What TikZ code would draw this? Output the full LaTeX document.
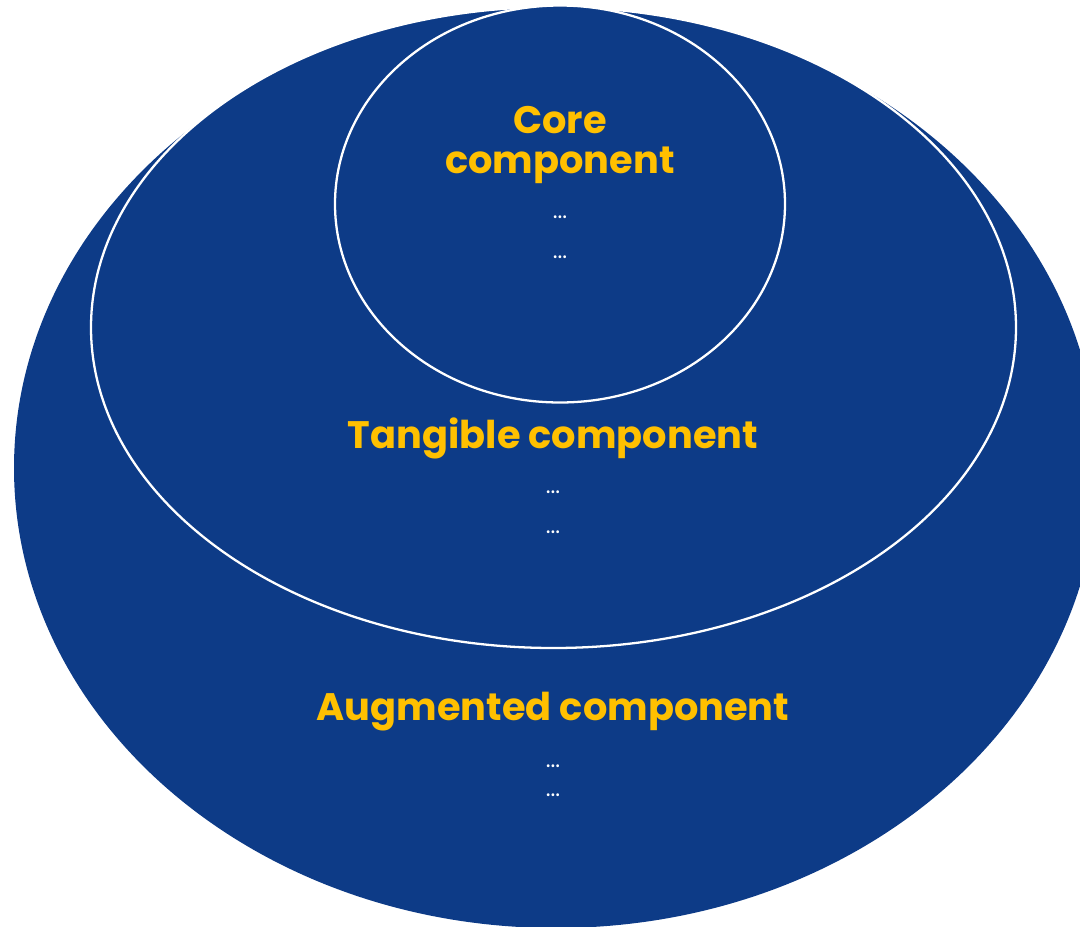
\documentclass[tikz,border=0pt]{standalone}
\usepackage{fontspec}
\setmainfont{Poppins}
\definecolor{levelblue}{RGB}{13,59,135}
\definecolor{levelgold}{RGB}{255,192,0}
\begin{document}
\begin{tikzpicture}[x=0.02cm, y=-0.02cm,
  level/.style={fill=levelblue, draw=white, line width=1.3pt},
  title/.style={text=levelgold, font=\bfseries\fontsize{21.8}{23}\selectfont, align=center},
  dots/.style={text=white, font=\fontsize{13}{14}\selectfont, inner sep=0}]
\useasboundingbox (0,0) rectangle (1080,927);
\clip (0,0) rectangle (1080,927);
% three nested levels, outer one filled without border
\fill[levelblue] (556,468) ellipse [x radius=542, y radius=460];
\draw[level] (553.5,327.5) ellipse [x radius=462.5, y radius=320.5];
\draw[level] (560,204) ellipse [x radius=225, y radius=198.5];
% core
\node[title] (core) at (560,145) {Core\\[0pt]component};
\node[dots] (core1) at (560,217) {...};
\node[dots] (core2) at (560,257) {...};
% tangible
\node[title] (tangible) at (553,438) {Tangible component};
\node[dots] (tang1) at (553,492) {...};
\node[dots] (tang2) at (553,532) {...};
% augmented
\node[title] (augmented) at (553,712) {Augmented component};
\node[dots] (aug1) at (553,766) {...};
\node[dots] (aug2) at (553,795) {...};
\end{tikzpicture}
\end{document}
